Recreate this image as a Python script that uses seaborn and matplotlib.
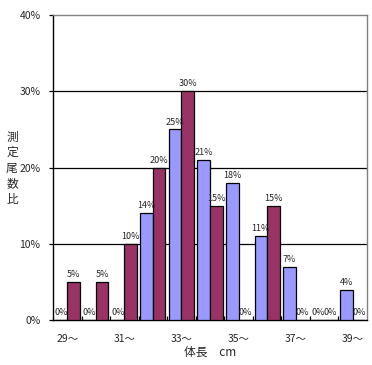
import numpy as np
import pandas as pd
import matplotlib
matplotlib.use('Agg')
import matplotlib.pyplot as plt
from matplotlib.ticker import FixedLocator
import seaborn as sns

# data (percent)
lengths = ['29～', '30～', '31～', '32～', '33～', '34～', '35～', '36～', '37～', '38～', '39～']
series_a = [0, 0, 0, 14, 25, 21, 18, 11, 7, 0, 4]
series_b = [5, 5, 10, 20, 30, 15, 0, 15, 0, 0, 0]
series_names = ['系列1', '系列2']
colors = ['#9999FF', '#993366']

df = pd.DataFrame({
    'length': lengths * 2,
    'value': series_a + series_b,
    'series': [series_names[0]] * len(lengths) + [series_names[1]] * len(lengths),
})

sns.set_style('white')
plt.rcParams['font.family'] = ['Noto Sans CJK JP', 'DejaVu Sans']

fig = plt.figure(figsize=(3.72, 3.65), dpi=100)
ax = fig.add_axes([53 / 372, 1 - 320 / 365, 314 / 372, 305 / 365])

sns.barplot(data=df, x='length', y='value', hue='series', palette=colors,
            saturation=1, width=0.88, edgecolor='black', linewidth=0.9,
            legend=False, ax=ax, zorder=3)

for cont in ax.containers:
    ax.bar_label(cont, fmt='%d%%', fontsize=6.5, padding=2)

ax.set_ylim(0, 40)
ax.set_xlim(-0.5, len(lengths) - 0.5)
ax.set_yticks([0, 10, 20, 30, 40])
ax.set_yticklabels(['0%', '10%', '20%', '30%', '40%'], fontsize=7.5)
ax.tick_params(axis='y', direction='out', length=3, width=0.9, color='black', pad=6, left=True)
for y in [10, 20, 30]:
    ax.axhline(y, color='black', linewidth=0.9, zorder=1)

ax.set_xticks(range(len(lengths)))
ax.set_xticklabels([l if i % 2 == 0 else '' for i, l in enumerate(lengths)], fontsize=7.5)
ax.tick_params(axis='x', which='major', length=0, pad=10)
ax.xaxis.set_minor_locator(FixedLocator(np.arange(0.5, len(lengths) - 0.5, 1)))
ax.tick_params(axis='x', which='minor', direction='in', length=3, width=0.9, color='black', bottom=True)

for side in ['left', 'bottom']:
    ax.spines[side].set_color('black')
    ax.spines[side].set_linewidth(1)
for side in ['top', 'right']:
    ax.spines[side].set_color('#808080')
    ax.spines[side].set_linewidth(1)

ax.set_xlabel('体長　cm', fontsize=8.5, labelpad=1)
ax.set_ylabel('')
fig.text(12 / 372, 1 - 168 / 365, '測\n定\n尾\n数\n比', fontsize=8.5, ha='center', va='center',
         linespacing=1.25)

fig.savefig('out.png', dpi=100)
